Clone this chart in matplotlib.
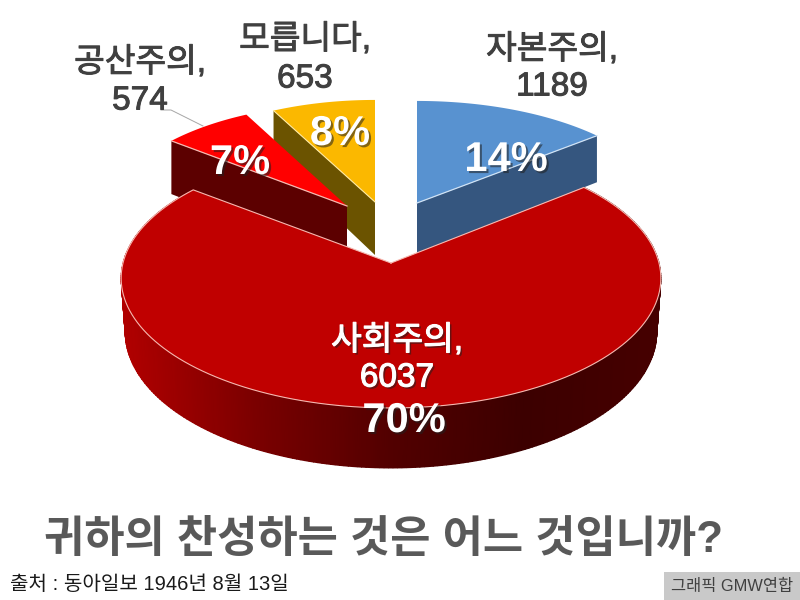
import numpy as np
import matplotlib
matplotlib.use('Agg')
import matplotlib.pyplot as plt
import matplotlib.patheffects as pe
from matplotlib.colors import LinearSegmentedColormap
from matplotlib.patches import Rectangle

categories = ['자본주의,', '사회주의,', '공산주의,', '모릅니다,']
votes = [1189, 6037, 574, 653]
percent_labels = ['14%', '70%', '7%', '8%']

title = '귀하의 찬성하는 것은 어느 것입니까?'
source = '출처 : 동아일보 1946년 8월 13일'
credit = '그래픽 GMW연합'

plt.rcParams['font.family'] = ['Liberation Sans', 'Noto Sans CJK KR', 'DejaVu Sans']

top_colors = ['#5892d0', '#c00000', '#ff0000', '#fbb800']
cut_colors = ['#35567f', '#5c0000', '#5c0000', '#6b5300']

# per slice: centre x, centre y, radius x, radius y, depth
slice_geo = [(417, 203, 250, 114, 50), (391, 263, 268, 128, 53),
             (347, 206, 238, 114, 57), (375, 202, 240, 114, 53)]
persp = 0.117
edge_col = '#f6b8b0'

rim_cmap = LinearSegmentedColormap.from_list(
    'rim', ['#b00000', '#7a0000', '#520000', '#3c0000', '#460000'])

# slices run clockwise from 12 o'clock, in degrees
angles = np.array(votes) / sum(votes) * 360
ends = 90 - np.cumsum(angles)
starts = ends + angles


def project(theta, geo):
    cx, cy, rx, ry = geo[:4]
    t = np.radians(theta)
    k = 1 / (1 + persp * np.sin(t))
    return cx + rx * np.cos(t) * k, cy - ry * np.sin(t) * k, k


fig = plt.figure(figsize=(8, 6), dpi=100)
ax = fig.add_axes([0, 0, 1, 1])
ax.set_xlim(0, 800)
ax.set_ylim(600, 0)
ax.axis('off')


def draw_cut_face(i, theta):
    # flat side of an exploded slice, from the rim to the tip
    geo = slice_geo[i]
    x, y, k = project(theta, geo)
    px = [x, geo[0], geo[0], x]
    py = [y, geo[1], geo[1] + geo[4], y + geo[4] * k]
    ax.fill(px, py, color=cut_colors[i], lw=0)


def draw_top(i):
    geo = slice_geo[i]
    th = np.linspace(starts[i], ends[i], 150)
    x, y, k = project(th, geo)
    px = np.r_[geo[0], x]
    py = np.r_[geo[1], y]
    ax.fill(px, py, color=top_colors[i], lw=0)
    return px, py


# back slices first, the big one goes over them
draw_cut_face(3, starts[3])
px, py = draw_top(3)
ax.plot(px[:2], py[:2], color='#ffe9a0', lw=0.8)

draw_cut_face(2, starts[2])
px, py = draw_top(2)
ax.plot(px[:2], py[:2], color=edge_col, lw=0.9)

draw_cut_face(0, ends[0])
px, py = draw_top(0)
ax.plot([px[0], px[-1]], [py[0], py[-1]], color='#cfe2f5', lw=0.9)

# outer wall of the big slice, shaded along x
geo = slice_geo[1]
th = np.linspace(starts[1], ends[1], 300)
x, y, k = project(th, geo)
xb = geo[0] + (x - geo[0]) * 0.985
yb = y + geo[4] * k
shade = (x - 123) / (660 - 123)
ax.pcolormesh(np.vstack([x, xb]), np.vstack([y, yb]), np.vstack([shade, shade]),
              shading='gouraud', cmap=rim_cmap, vmin=0, vmax=1)

px, py = draw_top(1)
ax.plot(np.r_[px, px[0]], np.r_[py, py[0]], color=edge_col, lw=0.8)

# leader line for the small slice
ax.plot([161, 171, 203], [110, 110, 126], color='#a6a6a6', lw=0.7)

# outside labels
heavy = [pe.withStroke(linewidth=0.7, foreground='#404040')]
label_pos = {0: (552, 50, 87), 2: (140, 63, 101), 3: (305, 40, 79)}
for i, (lx, y1, y2) in label_pos.items():
    ax.text(lx, y1, categories[i], fontsize=24, color='#404040', ha='center', va='center', path_effects=heavy)
    ax.text(lx, y2, str(votes[i]), fontsize=24, color='#404040', ha='center', va='center', path_effects=heavy)

# labels sitting on the pie
shadow = [pe.SimplePatchShadow(offset=(1.5, -1.5), alpha=0.55, shadow_rgbFace='#202020'), pe.Normal()]
shadow_heavy = [pe.SimplePatchShadow(offset=(1.5, -1.5), alpha=0.55, shadow_rgbFace='#202020'),
                pe.withStroke(linewidth=0.8, foreground='white')]
ax.text(397, 341, categories[1], fontsize=24, color='white', ha='center', va='center',
        path_effects=shadow_heavy)
ax.text(397, 378, str(votes[1]), fontsize=24, color='white', ha='center', va='center',
        path_effects=shadow_heavy)

pct_pos = [(506, 160), (404, 421), (240, 163), (340, 134)]
for lab, (lx, ly) in zip(percent_labels, pct_pos):
    ax.text(lx, ly, lab, fontsize=30, fontweight='bold', color='white', ha='center', va='center',
            path_effects=shadow)

ax.text(384, 540, title, fontsize=31.5, fontweight='bold', color='#595959', ha='center', va='center')
ax.text(10, 584, source, fontsize=14.5, color='#1a1a1a', ha='left', va='center')
ax.add_patch(Rectangle((664, 572), 136, 28, color='#c9c9c9', lw=0))
ax.text(732, 586, credit, fontsize=11.8, color='#404040', ha='center', va='center')

fig.savefig('out.png', dpi=100)
